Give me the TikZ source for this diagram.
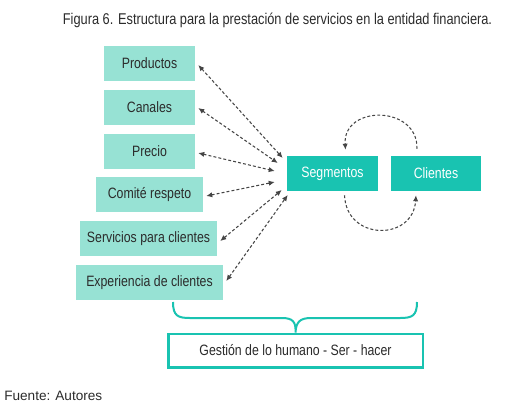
\documentclass[tikz,border=0pt]{standalone}
\usepackage{fontspec}
\setmainfont[FakeStretch=0.82]{Liberation Sans}
\newfontfamily\srcfont{Liberation Sans}
\usetikzlibrary{calc,arrows.meta}
\definecolor{lightteal}{HTML}{97E2D4}
\definecolor{darkteal}{HTML}{19C3B1}
\definecolor{arrowgray}{HTML}{454545}
\definecolor{textgray}{HTML}{2B2B2B}

\begin{document}
\begin{tikzpicture}[x=0.75pt,y=-0.75pt,
  every node/.style={font=\fontsize{11.25}{13}\selectfont, text=textgray},
  lbox/.style={fill=lightteal, minimum height=26.25pt, inner sep=0pt},
  dbox/.style={fill=darkteal, text=white, minimum height=26.25pt, inner sep=0pt},
  link/.style={arrowgray, line width=0.8pt, dash pattern=on 2.2pt off 1.6pt, {Latex[length=4.5pt,width=4pt]}-{Latex[length=4.5pt,width=4pt]}},
  loop/.style={arrowgray, line width=0.8pt, dash pattern=on 2.2pt off 1.6pt, -{Latex[length=4.5pt,width=4pt]}}]
\useasboundingbox (0,0) rectangle (508,405);
% title and source
\node[font=\fontsize{11.7}{13}\selectfont] (title) at (277.5,20) {Figura 6. Estructura para la prestaci\'on de servicios en la entidad financiera.};
\node[anchor=west, inner sep=0pt, font=\srcfont\fontsize{10.2}{12}\selectfont] (src) at (4,396) {Fuente: Autores};
% left boxes
\node[lbox, minimum width=68.25pt] (prod) at (149.5,63.5) {Productos};
\node[lbox, minimum width=68.25pt] (can) at (149.5,107) {Canales};
\node[lbox, minimum width=68.25pt] (prec) at (149.5,151) {Precio};
\node[lbox, minimum width=80.25pt] (com) at (149.5,194.5) {Comit\'e respeto};
\node[lbox, minimum width=102.75pt] (serv) at (148.5,238.5) {Servicios para clientes};
\node[lbox, minimum width=110.25pt] (exp) at (149.5,282.5) {Experiencia de clientes};
% right boxes
\node[dbox, minimum width=68.25pt] (seg) at (332.5,173.5) {Segmentos};
\node[dbox, minimum width=67.5pt] (cli) at (436,173.5) {Clientes};
\node[draw=darkteal, line width=2pt, fill=white, minimum width=191pt, minimum height=25pt, inner sep=0pt] (ges) at (295.5,350.5) {Gesti\'on de lo humano - Ser - hacer};
% links to Segmentos
\foreach \n/\dy/\ex/\ey in {prod/1.5/-4/-15.5, can/1/-9/-10.5, prec/2/-12/-2.5, com/1.5/-12/8.5, serv/2.5/-5/16.5, exp/-1.5/1/21.5}
  \draw[link] ($(\n.east)+(3,\dy)$) -- ($(seg.west)+(\ex,\ey)$);
% loops between Segmentos and Clientes
\draw[loop] ($(cli.north)+(-19,-7)$) .. controls ($(cli.north)+(-18,-51)$) and ($(seg.north)+(10,-51)$) .. ($(seg.north)+(13,-6)$);
\draw[loop] ($(seg.south)+(12,4)$) .. controls ($(seg.south)+(14,50)$) and ($(cli.south)+(-23,50)$) .. ($(cli.south)+(-20,4)$);
% brace
\draw[darkteal, line width=1.5pt] (173,302) .. controls (173,316) and (178,318) .. (190,318) -- (282,318) .. controls (293,318) and (296,322) .. (ges.north) .. controls (296,322) and (300,318) .. (311,318) -- (400,318) .. controls (412,318) and (417,316) .. (417,302);
\end{tikzpicture}
\end{document}
